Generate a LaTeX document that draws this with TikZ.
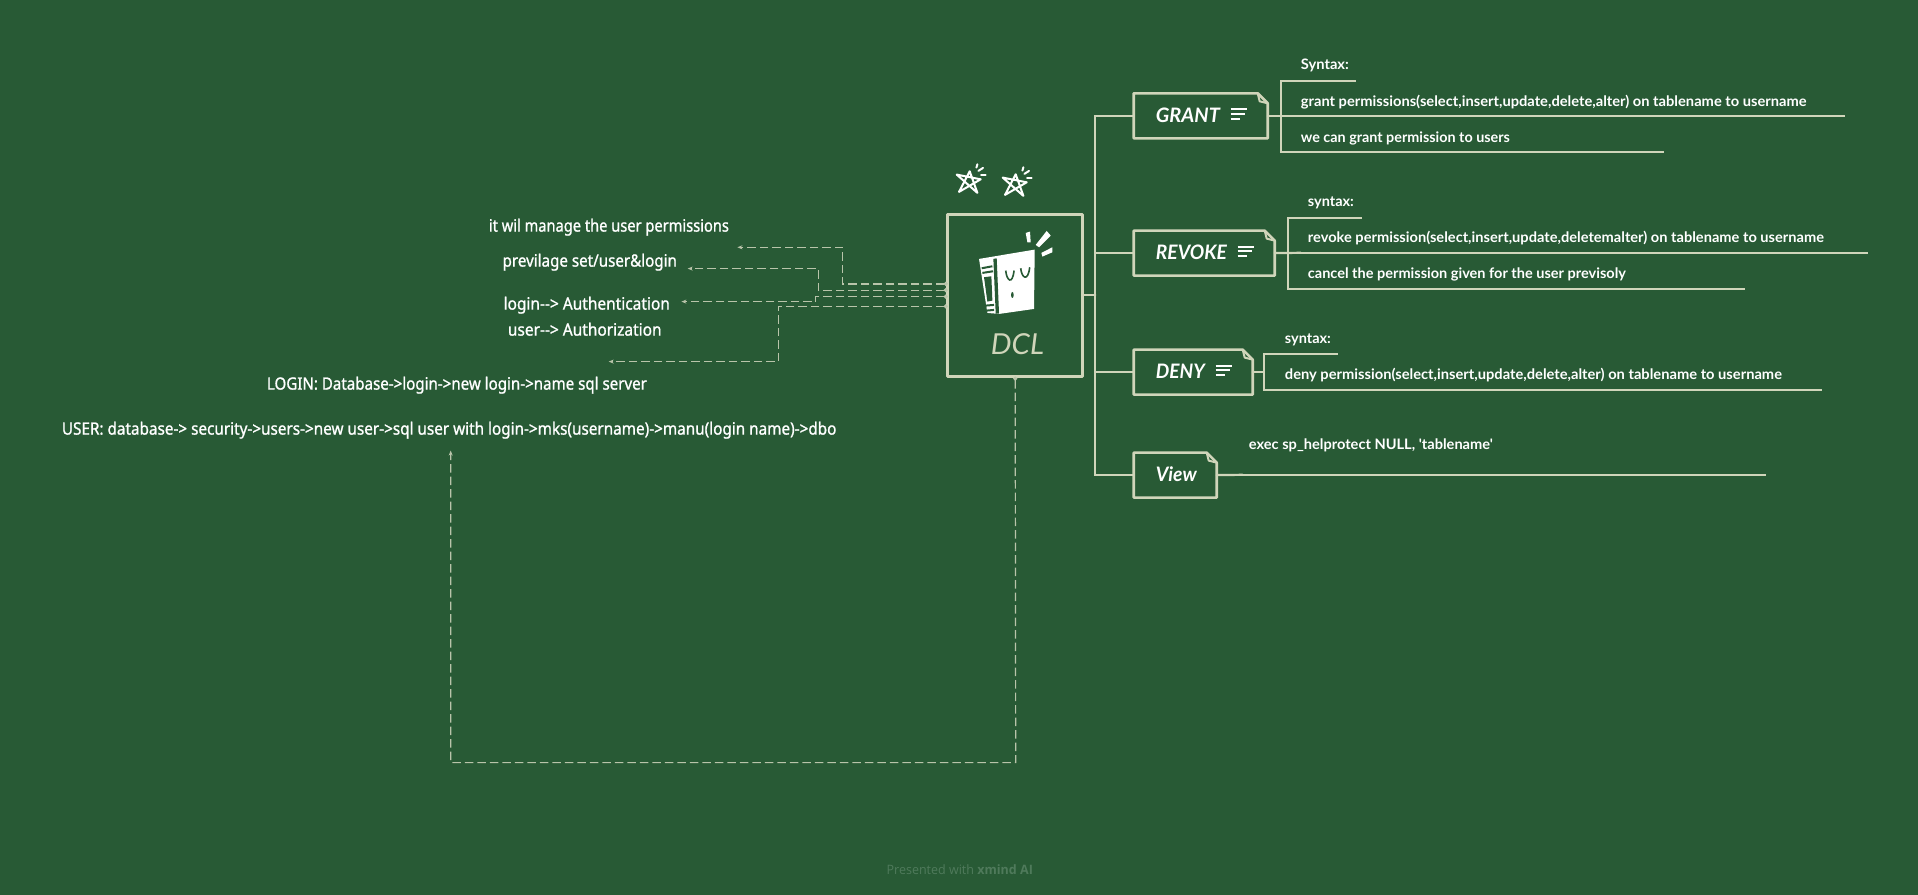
\documentclass[tikz,border=0pt]{standalone}
\usepackage{graphicx}
\usepackage{fontspec}
\usetikzlibrary{arrows.meta,calc}
\setmainfont{Lato}
\newfontfamily\leftfont[FakeBold=1.2]{Noto Sans}
\newfontfamily\handfont{Lato}
\newfontfamily\footfont{Open Sans}
\definecolor{bgcol}{HTML}{285A35}
\definecolor{linecol}{HTML}{D0D5BA}
\definecolor{dashcol}{HTML}{B9C4AA}
\definecolor{footcol}{HTML}{4F7A5B}
\newcommand{\fitw}[2]{\resizebox{#1bp}{\height}{#2}}
\newcommand{\foldbox}[5]{%
  \node[topicbase,minimum width=#4bp,minimum height=#5bp] (#1) at (#2,#3) {};
  \draw[boxline] ($(#1.north east)+(-10,0)$) -- (#1.north west) -- (#1.south west) -- (#1.south east) -- ($(#1.north east)+(0,10)$) -- cycle;
  \draw[foldline] ($(#1.north east)+(-10,0)$) -- ($(#1.north east)+(-8,8)$) -- ($(#1.north east)+(0,10)$);
}
\newcommand{\noteicon}[2]{%
  \draw[noteline] (#1,#2) -- ++(16,0);
  \draw[noteline] (#1,#2+4.6) -- ++(14,0);
  \draw[noteline] (#1,#2+9.2) -- ++(9,0);
}
\newcommand{\sketchstar}[2]{%
  \begin{scope}[shift={(#1,#2)}]
    \draw[starline] (0,3.3) -- (24,8) -- (2.3,20.6) -- (13,0) -- (20.7,21.6) -- cycle;
    \draw[starline] (20.7,-7) -- (19.7,-3.7);
    \draw[starline] (21.7,-0.4) -- (26.3,-3.4);
    \draw[starline] (24.3,3.3) -- (29,3.3);
  \end{scope}
}
\tikzset{
  topicbase/.style={rectangle,inner sep=0pt,outer sep=0pt,draw=none},
  boxline/.style={draw=linecol,line width=2.6bp,line join=round},
  foldline/.style={draw=linecol,line width=2bp,line join=round},
  branch/.style={draw=linecol,line width=2.2bp,line cap=round},
  leafline/.style={draw=linecol,line width=2.2bp},
  noteline/.style={draw=white,line width=2bp},
  starline/.style={draw=white,line width=2bp,line cap=round,line join=round},
  dashconn/.style={draw=dashcol,line width=1.2bp,dash pattern=on 8.5bp off 4bp,{Circle[length=4bp]}-{Stealth[length=5bp,width=4bp]}},
  lefttext/.style={anchor=base west,inner sep=0pt,text=white,font=\leftfont\fontsize{17}{19}\selectfont},
  righttext/.style={anchor=base west,inner sep=0pt,text=white,font=\handfont\bfseries\fontsize{14.5}{16}\selectfont},
  topictext/.style={anchor=base west,inner sep=0pt,text=white,font=\handfont\bfseries\itshape\fontsize{20}{22}\selectfont},
}
\begin{document}
\begin{tikzpicture}[x=1bp,y=-1bp]
\useasboundingbox (0,0) rectangle (1918,895);
\fill[bgcol] (0,0) rectangle (1918,895);
\begin{scope}[shift={(0.7,0.6)}]

% central topic
\node[topicbase,minimum width=135bp,minimum height=162bp] (dcl) at (1014.5,295) {};
\draw[boxline,line width=2.8bp] (dcl.north west) rectangle (dcl.south east);
\node[anchor=base west,inner sep=0pt,text=linecol,font=\handfont\itshape\fontsize{29}{31}\selectfont] (dcltext) at (990,353.7) {\fitw{53}{DCL}};

% book icon
\begin{scope}[shift={(970,225)},x=0.3333bp,y=-0.3333bp]
  \fill[white] (25,100) -- (192,72) -- (190,250) -- (85,265) -- (50,262) -- cycle;
  \fill[bgcol] (68,100) -- (78,98) -- (85,264) -- (75,264) -- cycle;
  \fill[bgcol] (40,155) -- (62,152) -- (65,225) -- (50,228) -- cycle;
  \draw[bgcol,line width=2bp] (33,128) -- (65,122);
  \draw[bgcol,line width=2bp] (35,142) -- (67,137);
  \draw[bgcol,line width=2bp] (45,240) -- (70,238);
  \draw[bgcol,line width=2bp] (48,255) -- (70,253);
  \draw[bgcol,line width=1.6bp] (105,135) .. controls (108,165) and (125,180) .. (130,135);
  \draw[bgcol,line width=1.6bp] (150,128) .. controls (153,158) and (172,170) .. (177,125);
  \fill[bgcol] (125,208) ellipse (4 and 9);
  \fill[white] (165,22) -- (178,18) -- (180,50) -- (170,50) -- cycle;
  \fill[white] (195,58) -- (228,16) -- (240,30) -- (205,65) -- cycle;
  \fill[white] (212,82) -- (245,65) -- (245,80) -- (215,93) -- cycle;
\end{scope}

\sketchstar{956}{170.7}
\sketchstar{1002}{173.7}

% topics
\foldbox{grant}{1200}{115.2}{134}{45}
\foldbox{revoke}{1203.5}{252.5}{141}{45}
\foldbox{deny}{1192.5}{371.5}{119}{45}
\foldbox{view}{1174.5}{474.5}{83}{45}
\node[topictext] (granttext) at (1155,122) {\fitw{64}{GRANT}};
\node[topictext] (revoketext) at (1155,259) {\fitw{71}{REVOKE}};
\node[topictext] (denytext) at (1155,378) {\fitw{49}{DENY}};
\node[topictext] (viewtext) at (1155,481) {\fitw{41}{View}};
\noteicon{1230}{108.7}
\noteicon{1237}{246}
\noteicon{1215}{365}

% trunk
\coordinate (trunktop) at (1094.5,115.2);
\coordinate (trunkbot) at (1094.5,474.5);
\draw[branch] (dcl.east |- 1082,294) -- (1094.5,294);
\draw[branch] (grant.west) -- (trunktop) -- (trunkbot) -- (view.west);
\draw[branch] (1094.5,252.5) -- (revoke.west);
\draw[branch] (1094.5,371.5) -- (deny.west);

% GRANT leaves
\coordinate (gA) at (1293,80);   \coordinate (gAe) at (1355,80);
\coordinate (gB) at (1293,115.2);\coordinate (gBe) at (1844,115.2);
\coordinate (gC) at (1293,151.7);\coordinate (gCe) at (1663,151.7);
\draw[leafline] (gA) -- (gAe); \draw[leafline] (gB) -- (gBe); \draw[leafline] (gC) -- (gCe);
\draw[branch] (gA) -- (1280,80) -- (1280,151.7) -- (gC);
\draw[branch] (grant.east) -- (gB);
\node[righttext] (gAt) at (1300,69) {\fitw{48}{Syntax:}};
\node[righttext] (gBt) at (1300,105.7) {\fitw{505.7}{grant permissions(select,insert,update,delete,alter) on tablename to username}};
\node[righttext] (gCt) at (1300,141.7) {\fitw{209}{we can grant permission to users}};

% REVOKE leaves
\coordinate (rA) at (1300,217);  \coordinate (rAe) at (1361,217);
\coordinate (rB) at (1300,252.2);\coordinate (rBe) at (1867,252.2);
\coordinate (rC) at (1300,288);  \coordinate (rCe) at (1744,288);
\draw[leafline] (rA) -- (rAe); \draw[leafline] (rB) -- (rBe); \draw[leafline] (rC) -- (rCe);
\draw[branch] (rA) -- (1287,217) -- (1287,288) -- (rC);
\draw[branch] (revoke.east) -- (rB);
\node[righttext] (rAt) at (1307,206) {\fitw{46}{syntax:}};
\node[righttext] (rBt) at (1307,242) {\fitw{516}{revoke permission(select,insert,update,deletemalter) on tablename to username}};
\node[righttext] (rCt) at (1307,278) {\fitw{318}{cancel the permission given for the user previsoly}};

% DENY leaves
\coordinate (dA) at (1277,353.7);\coordinate (dAe) at (1337,353.7);
\coordinate (dB) at (1277,389.3);\coordinate (dBe) at (1821,389.3);
\draw[leafline] (dA) -- (dAe); \draw[leafline] (dB) -- (dBe);
\draw[branch] (dA) -- (1263,353.7) -- (1263,389.3) -- (dB);
\draw[branch] (deny.east) -- (1263,371.5);
\node[righttext] (dAt) at (1284,343) {\fitw{46}{syntax:}};
\node[righttext] (dBt) at (1284,379) {\fitw{497}{deny permission(select,insert,update,delete,alter) on tablename to username}};

% View leaf
\coordinate (vA) at (1242,474.2);\coordinate (vAe) at (1765,474.2);
\draw[leafline] (vA) -- (vAe);
\draw[branch] (view.east) -- (vA);
\node[righttext] (vAt) at (1248,449) {\fitw{244}{exec sp\_helprotect NULL, 'tablename'}};

% left floating texts
\node[lefttext] (l1) at (488,231) {\fitw{240}{it wil manage the user permissions}};
\node[lefttext] (l2) at (501.7,266) {\fitw{174.3}{previlage set/user\&login}};
\node[lefttext] (l3) at (502.7,309) {\fitw{166.3}{login--> Authentication}};
\node[lefttext] (l4) at (507,335) {\fitw{153.7}{user--> Authorization}};
\node[lefttext] (l5) at (266,389) {\fitw{380}{LOGIN: Database->login->new login->name sql server}};
\node[lefttext] (l6) at (61,434) {\fitw{774.5}{USER: database-> security->users->new user->sql user with login->mks(username)->manu(login name)->dbo}};

% dashed relationships
\coordinate (b1) at (842,283.3);   \coordinate (e1) at (736.7,246.7);
\coordinate (b2) at (817.7,289.5); \coordinate (e2) at (687,268);
\coordinate (b3) at (815,296);     \coordinate (e3) at (680.7,301);
\coordinate (b4) at (777.7,305.7); \coordinate (e4) at (608,361);
\coordinate (b5) at (1015,762);    \coordinate (b6) at (450,762); \coordinate (e5) at (450,450);
\draw[dashconn] (dcl.west |- b1) -- (b1) |- (e1);
\draw[dashconn] (dcl.west |- b2) -- (b2) |- (e2);
\draw[dashconn] (dcl.west |- b3) -- (b3) |- (e3);
\draw[dashconn] (dcl.west |- b4) -- (b4) |- (e4);
\draw[dashconn] (dcl.south) -- (b5) -- (b6) -- (e5);

% footer
\node[anchor=base west,inner sep=0pt,text=footcol,font=\footfont\fontsize{13}{15}\selectfont] (foot) at (885.7,874) {\fitw{146.3}{Presented with \textbf{xmind AI}}};
\end{scope}
\end{tikzpicture}
\end{document}
